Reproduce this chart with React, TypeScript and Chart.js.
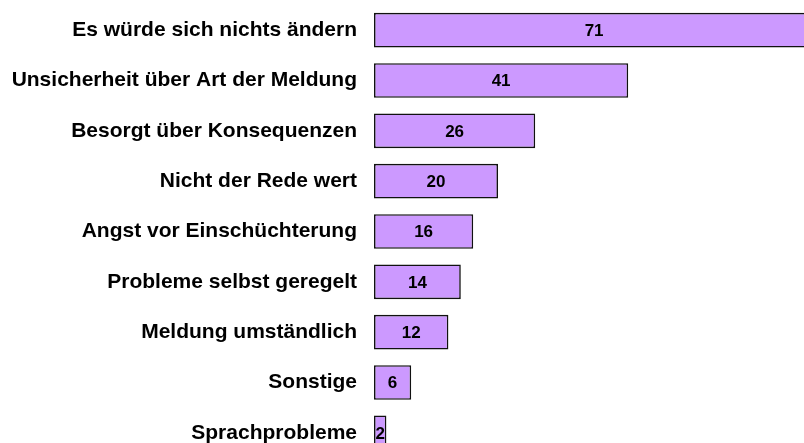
import React, { useEffect, useRef } from "react";
import { Chart, registerables } from "chart.js";

Chart.register(...registerables);

const categories = [
  "Es würde sich nichts ändern",
  "Unsicherheit über Art der Meldung",
  "Besorgt über Konsequenzen",
  "Nicht der Rede wert",
  "Angst vor Einschüchterung",
  "Probleme selbst geregelt",
  "Meldung umständlich",
  "Sonstige",
  "Sprachprobleme",
];
const values = [71, 41, 26, 20, 16, 14, 12, 6, 2];

const valueLabels = {
  id: "valueLabels",
  afterDatasetsDraw(chart: any) {
    const ctx = chart.ctx;
    const x = chart.scales.x;
    const meta = chart.getDatasetMeta(0);
    ctx.save();
    ctx.font = "bold 17px 'Liberation Sans', Arial, sans-serif";
    ctx.fillStyle = "#000";
    ctx.textAlign = "center";
    ctx.textBaseline = "middle";
    meta.data.forEach((el: any, i: number) => {
      const v = values[i];
      const cx = (x.getPixelForValue(0) + x.getPixelForValue(v)) / 2;
      ctx.fillText(String(v), cx, el.y + 1);
    });
    ctx.restore();
  },
};

export default function App() {
  const ref = useRef<HTMLCanvasElement>(null);
  useEffect(() => {
    if (!ref.current) return;
    const chart = new Chart(ref.current, {
      type: "bar",
      data: {
        labels: categories,
        datasets: [
          {
            data: values,
            backgroundColor: "#cc99ff",
            borderColor: "#111111",
            borderWidth: 1.6,
            borderSkipped: false,
            categoryPercentage: 1,
            barPercentage: 0.69,
          },
        ],
      },
      options: {
        indexAxis: "y",
        animation: false,
        responsive: false,
        maintainAspectRatio: false,
        layout: { padding: { top: 5, bottom: 0, left: 0, right: 0 } },
        plugins: { legend: { display: false }, tooltip: { enabled: false } },
        scales: {
          x: { display: false, min: 0, max: 80 },
          y: {
            grid: { display: false, drawTicks: false },
            border: { display: false },
            afterFit: (s: any) => {
              s.width = 374;
              s.paddingTop = 0;
              s.paddingBottom = 0;
            },
            ticks: {
              color: "#000",
              padding: 17,
              font: { family: "'Liberation Sans', Arial, sans-serif", size: 21, weight: "bold" },
            },
          },
        },
      },
      plugins: [valueLabels],
    });
    return () => chart.destroy();
  }, []);
  return (
    <div style={{ position: "fixed", left: 0, top: 0, width: 804, height: 443, overflow: "hidden", background: "#fff" }}>
      <canvas ref={ref} width={870} height={458} style={{ display: "block" }} />
    </div>
  );
}
